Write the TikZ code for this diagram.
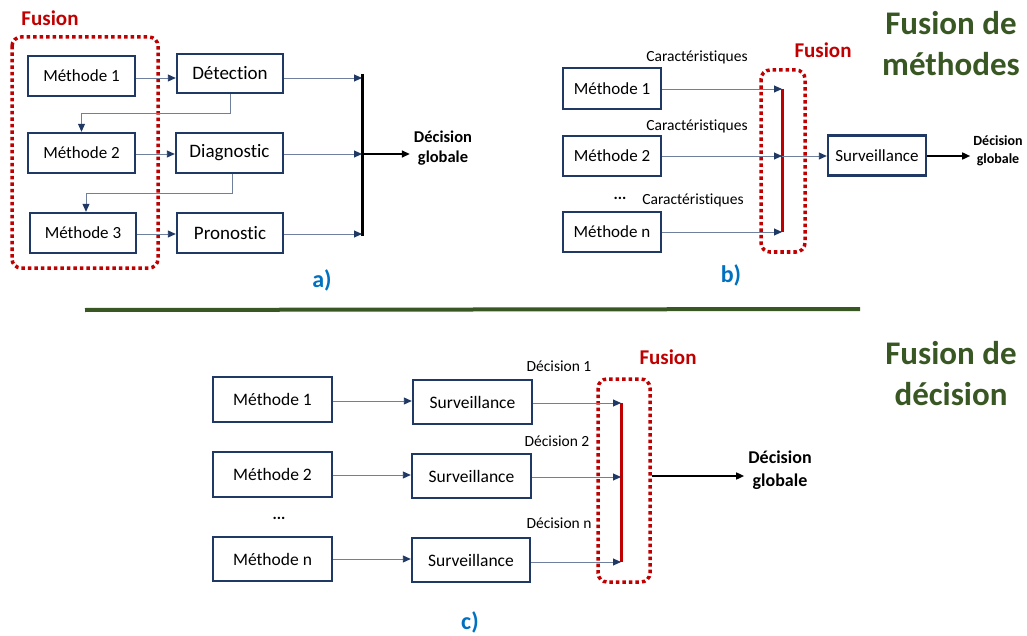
\documentclass[tikz,border=0pt]{standalone}
\usepackage{fontspec}
\setmainfont{Carlito}[Ligatures=NoCommon]
\usetikzlibrary{arrows.meta,calc}
\definecolor{navy}{RGB}{31,56,100}
\definecolor{arrline}{RGB}{110,128,158}
\definecolor{fred}{RGB}{192,0,0}
\definecolor{fgreen}{RGB}{56,87,35}
\definecolor{fblue}{RGB}{0,112,192}
\tikzset{
  box/.style={draw=navy,line width=2.4pt,inner sep=0pt,fill=white},
  arr/.style={draw=arrline,line width=0.9pt,-{Triangle[length=8pt,width=7pt,fill=navy,color=navy]}},
  blkarr/.style={draw=black,line width=1.6pt,-{Triangle[length=8pt,width=7pt]}},
  dotbox/.style={draw=fred,line width=3.5pt,dash pattern=on 3.5pt off 3pt,rounded corners=9pt},
  fuslab/.style={text=fred,font=\bfseries\fontsize{21}{24}\selectfont},
  sublab/.style={text=fblue,font=\bfseries\fontsize{24}{27}\selectfont},
  title/.style={text=fgreen,align=center,font=\bfseries\fontsize{33}{41}\selectfont},
  small/.style={font=\fontsize{15.5}{18}\selectfont},
}
\begin{document}
\begin{tikzpicture}[x=1pt,y=-1pt]
\useasboundingbox (0,0) rectangle (1027,636);
% ---------- panel a ----------
\node[fuslab] (fusa) at (50,18) {Fusion};
\draw[dotbox] (12,37) rectangle (158,268);
\node[box,minimum width=107pt,minimum height=40pt,font=\fontsize{17}{20}\selectfont] (m1a) at (81.5,76) {Méthode 1};
\node[box,minimum width=107pt,minimum height=40pt,font=\fontsize{17}{20}\selectfont] (m2a) at (81.5,153) {Méthode 2};
\node[box,minimum width=106pt,minimum height=40pt,font=\fontsize{17}{20}\selectfont] (m3a) at (83,233) {Méthode 3};
\node[box,minimum width=106pt,minimum height=39pt,font=\fontsize{19}{22}\selectfont] (det) at (230,73.5) {Détection};
\node[box,minimum width=107pt,minimum height=40pt,font=\fontsize{19}{22}\selectfont] (diag) at (229.5,153) {Diagnostic};
\node[box,minimum width=106pt,minimum height=40pt,font=\fontsize{19}{22}\selectfont] (pron) at (230,233) {Pronostic};
\draw[arr] (m1a.east |- 0,78) -- (det.west |- 0,78);
\draw[arr] (m2a.east |- 0,154) -- (diag.west |- 0,154);
\draw[arr] (m3a.east |- 0,234) -- (pron.west |- 0,234);
\draw[arr] (det.south) -- ++(0,19.5) -| (m2a.north);
\draw[arr] ([xshift=3pt]diag.south) -- ++(0,19.5) -| ([xshift=3pt]m3a.north);
\coordinate (bat) at (362,74);
\coordinate (bab) at (362,236);
\coordinate (bam) at (362,154);
\draw[line width=3pt,black] (bat) -- (bab);
\draw[arr] (det.east |- 0,78) -- (bat |- 0,78);
\draw[arr] (diag.east |- 0,154) -- (bam);
\draw[arr] (pron.east |- 0,234) -- (bat |- 0,234);
\node[align=center,inner sep=4pt,font=\bfseries\fontsize{16.5}{20}\selectfont] (deca) at (443,148) {Décision\\globale};
\draw[blkarr] (bam) -- (deca.west |- bam);
\node[sublab] (la) at (322,280) {a)};
% ---------- panel b ----------
\node[fuslab] (fusb) at (823,50) {Fusion};
\draw[dotbox] (761,70) rectangle (805,252);
\node[box,minimum width=98pt,minimum height=41pt,font=\fontsize{17}{20}\selectfont] (m1b) at (612,88.5) {Méthode 1};
\node[box,minimum width=98pt,minimum height=40pt,font=\fontsize{17}{20}\selectfont] (m2b) at (612,156) {Méthode 2};
\node[box,minimum width=98pt,minimum height=40pt,font=\fontsize{17}{20}\selectfont] (mnb) at (612,232) {Méthode n};
\node[small] (c1) at (697,57) {Caractéristiques};
\node[small] (c2) at (697,126) {Caractéristiques};
\node[small] (c3) at (693,200) {Caractéristiques};
\node[font=\bfseries\fontsize{16}{18}\selectfont] (dotsb) at (620,198) {...};
\coordinate (bbt) at (782,89);
\coordinate (bbb) at (782,232);
\coordinate (bbm) at (782,156);
\draw[line width=3pt,fred] (bbt) -- (bbb);
\node[box,minimum width=98pt,minimum height=40pt,font=\fontsize{17}{20}\selectfont] (svb) at (877,155.5) {Surveillance};
\draw[arr] (m1b.east |- bbt) -- (bbt);
\draw[arr] (m2b.east |- bbm) -- (bbm);
\draw[arr] (mnb.east |- bbb) -- (bbb);
\draw[arr] (bbm) -- (svb.west |- bbm);
\node[align=center,inner sep=3pt,font=\bfseries\fontsize{14}{18}\selectfont] (decb) at (998,151) {Décision\\globale};
\draw[blkarr] (svb.east |- bbm) -- (decb.west |- bbm);
\node[sublab] (lb) at (731,275) {b)};
% ---------- titles and separator ----------
\node[title] (t1) at (951,44) {Fusion de\\méthodes};
\node[title] (t2) at (951,374) {Fusion de\\décision};
\coordinate (sepl) at (85,310);
\coordinate (sepr) at (860,309);
\draw[fgreen,line width=4pt] (sepl) -- (sepr);
% ---------- panel c ----------
\node[fuslab] (fusc) at (668,357) {Fusion};
\draw[dotbox] (598,379) rectangle (650,582);
\node[box,minimum width=119pt,minimum height=45pt,font=\fontsize{17.5}{20}\selectfont] (m1c) at (272.5,399.5) {Méthode 1};
\node[box,minimum width=119pt,minimum height=45pt,font=\fontsize{17.5}{20}\selectfont] (m2c) at (272.5,474.5) {Méthode 2};
\node[box,minimum width=119pt,minimum height=44pt,font=\fontsize{17.5}{20}\selectfont] (mnc) at (272.5,559) {Méthode n};
\node[box,minimum width=119pt,minimum height=44pt,font=\fontsize{17.5}{20}\selectfont] (s1c) at (472.5,402) {Surveillance};
\node[box,minimum width=119pt,minimum height=44pt,font=\fontsize{17.5}{20}\selectfont] (s2c) at (471.5,476) {Surveillance};
\node[box,minimum width=118pt,minimum height=44pt,font=\fontsize{17.5}{20}\selectfont] (s3c) at (471,560) {Surveillance};
\node[font=\bfseries\fontsize{16}{18}\selectfont] (dotsc) at (279,518) {...};
\draw[arr] (m1c.east |- 0,401) -- (s1c.west |- 0,401);
\draw[arr] (m2c.east |- 0,475) -- (s2c.west |- 0,475);
\draw[arr] (mnc.east |- 0,559) -- (s3c.west |- 0,559);
\coordinate (bct) at (621,403);
\coordinate (bcb) at (621,562);
\coordinate (bcm) at (621,477);
\draw[line width=3pt,fred] (bct) -- (bcb);
\draw[arr] (s1c.east |- bct) -- (bct);
\draw[arr] (s2c.east |- bcm) -- (bcm);
\draw[arr] (s3c.east |- bcb) -- (bcb);
\node[small] (d1) at (559,366) {Décision 1};
\node[small] (d2) at (557,441) {Décision 2};
\node[small] (d3) at (559,523) {Décision n};
\coordinate (outc) at (652,476);
\node[align=center,inner sep=4pt,font=\bfseries\fontsize{18}{23}\selectfont] (decc) at (780,470) {Décision\\globale};
\draw[blkarr] (outc) -- (decc.west |- outc);
\node[sublab] (lc) at (470,622) {c)};
\end{tikzpicture}
\end{document}
